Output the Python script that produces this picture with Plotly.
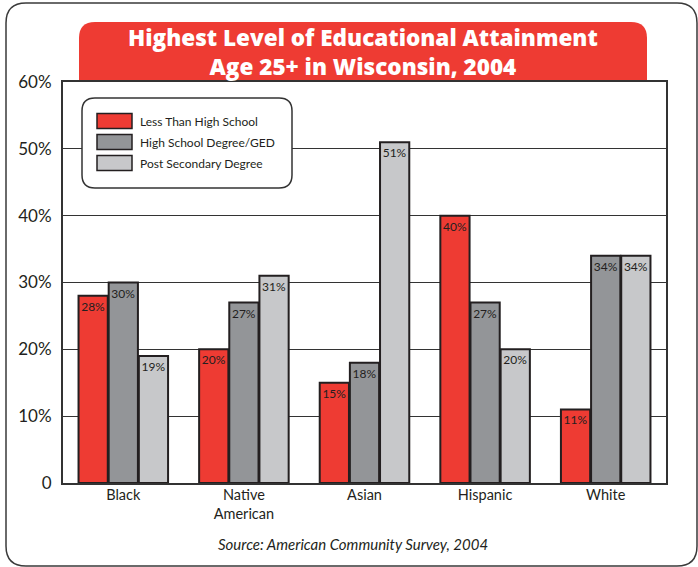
import plotly.graph_objects as go

# Educational attainment, age 25+, Wisconsin 2004 (percent)
groups = ["Black", "Native<br>American", "Asian", "Hispanic", "White"]
series_names = ["Less Than High School", "High School Degree/GED", "Post Secondary Degree"]
less_than_hs = [28, 20, 15, 40, 11]
hs_degree_ged = [30, 27, 18, 27, 34]
post_secondary = [19, 31, 51, 20, 34]
series_values = [less_than_hs, hs_degree_ged, post_secondary]
series_colors = ["#EE3B33", "#939598", "#C7C8CA"]

y_ticks = [0, 10, 20, 30, 40, 50, 60]
y_tick_labels = ["0", "10%", "20%", "30%", "40%", "50%", "60%"]

title_lines = ["Highest Level of Educational Attainment", "Age 25+ in Wisconsin, 2004"]
source_text = "Source: American Community Survey, 2004"

W, H = 698, 567
ML, MR, MT, MB = 63, 32, 82, 84
PW, PH = W - ML - MR, H - MT - MB

FONT = "Lato, 'Open Sans', sans-serif"
TITLE_FONT = "'Open Sans', Lato, sans-serif"
INK = "#231F20"
LINE = "#333333"


def px(x):
    return (x - ML) / PW


def py(y):
    return (H - MB - y) / PH


def rounded_path(x0, y0, x1, y1, r, top_only=False):
    """Rounded rectangle path in paper coordinates from pixel corners."""
    rb = 0 if top_only else r
    pts = [
        f"M {px(x0 + r)},{py(y0)}",
        f"L {px(x1 - r)},{py(y0)}",
        f"Q {px(x1)},{py(y0)} {px(x1)},{py(y0 + r)}",
        f"L {px(x1)},{py(y1 - rb)}",
    ]
    if rb:
        pts.append(f"Q {px(x1)},{py(y1)} {px(x1 - rb)},{py(y1)}")
    pts.append(f"L {px(x0 + rb)},{py(y1)}")
    if rb:
        pts.append(f"Q {px(x0)},{py(y1)} {px(x0)},{py(y1 - rb)}")
    pts += [
        f"L {px(x0)},{py(y0 + r)}",
        f"Q {px(x0)},{py(y0)} {px(x0 + r)},{py(y0)}",
        "Z",
    ]
    return " ".join(pts)


fig = go.Figure()
for name, vals, color in zip(series_names, series_values, series_colors):
    fig.add_trace(go.Bar(
        x=groups, y=vals, name=name,
        marker=dict(color=color, line=dict(color=INK, width=2)),
        text=[f"{v}%" for v in vals], textposition="inside", insidetextanchor="end",
        textangle=0, constraintext="none",
        textfont=dict(family=FONT, size=12, color=INK),
        showlegend=False,
    ))

shapes = [
    # outer card
    dict(type="path", xref="paper", yref="paper",
         path=rounded_path(6, 3, 697, 566, 20),
         line=dict(color="#3a3a3a", width=1.5), fillcolor="rgba(0,0,0,0)", layer="below"),
    # title banner
    dict(type="path", xref="paper", yref="paper",
         path=rounded_path(79, 22, 647, 82, 16, top_only=True),
         line=dict(width=0), fillcolor="#EE3B33", layer="below"),
    # legend box
    dict(type="path", xref="paper", yref="paper",
         path=rounded_path(82, 98, 292, 188, 13),
         line=dict(color=LINE, width=1.5), fillcolor="white", layer="above"),
]

annotations = [
    # two-line banner title
    dict(text="<br>".join(title_lines), xref="paper", yref="paper",
         x=px(363), y=py(52), xanchor="center", yanchor="middle", showarrow=False,
         font=dict(family=TITLE_FONT, size=22.5, weight=800, color="white")),
    dict(text="<i>" + source_text + "</i>", xref="paper", yref="paper",
         x=px(353), y=py(544), xanchor="center", yanchor="middle", showarrow=False,
         font=dict(family=FONT, size=15, color=INK)),
]

# legend entries
row_y = [121, 142, 163]
for name, color, ry in zip(series_names, series_colors, row_y):
    shapes.append(dict(type="rect", xref="paper", yref="paper",
                       x0=px(97), x1=px(132), y0=py(ry - 7.5), y1=py(ry + 7.5),
                       fillcolor=color, line=dict(color=INK, width=1.5), layer="above"))
    annotations.append(dict(text=name, xref="paper", yref="paper",
                            x=px(138), y=py(ry), xanchor="left", yanchor="middle",
                            showarrow=False, font=dict(family=FONT, size=12, color=INK)))

fig.update_layout(
    width=W, height=H,
    margin=dict(l=ML, r=MR, t=MT, b=MB),
    paper_bgcolor="white", plot_bgcolor="white",
    barmode="group", bargap=0.25, bargroupgap=0.03,
    font=dict(family=FONT, color=INK),
    shapes=shapes, annotations=annotations,
    xaxis=dict(
        range=[-0.5, 4.5], showgrid=False, ticks="",
        showline=True, mirror=True, linecolor=LINE, linewidth=2,
        tickfont=dict(family=FONT, size=14.5, color=INK), ticklabelstandoff=-2,
    ),
    yaxis=dict(
        range=[0, 60], tickvals=y_ticks, ticktext=y_tick_labels, ticks="",
        showgrid=True, gridcolor=LINE, gridwidth=1.3, zeroline=False,
        showline=True, mirror=True, linecolor=LINE, linewidth=2,
        tickfont=dict(family=FONT, size=17, color=INK), ticklabelstandoff=6,
    ),
)

fig.write_html("out.html")
